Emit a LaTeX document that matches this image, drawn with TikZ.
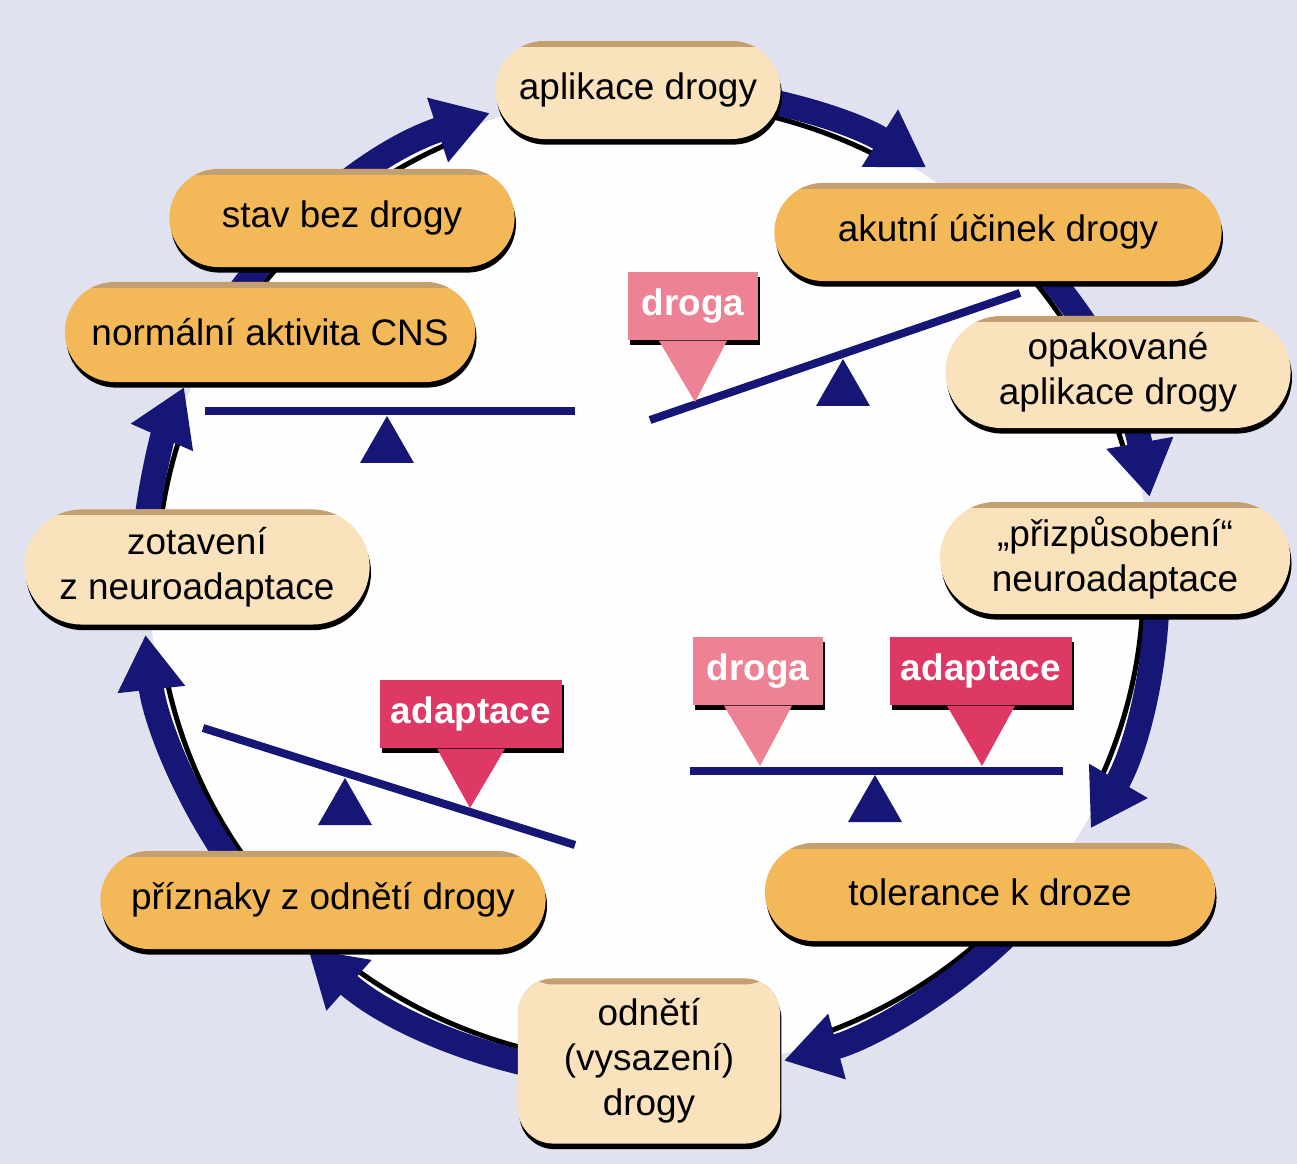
\documentclass[tikz,border=0pt]{standalone}
\usepackage{fontspec}
\setmainfont{Liberation Sans}
\usetikzlibrary{shapes.misc,shadows,arrows.meta,calc}

\definecolor{bgcol}{RGB}{225,226,240}
\definecolor{ringcol}{RGB}{22,22,118}
\definecolor{boxlight}{RGB}{250,226,188}
\definecolor{boxorange}{RGB}{243,184,88}
\definecolor{boxtop}{RGB}{196,160,112}
\definecolor{pinklight}{RGB}{236,130,148}
\definecolor{pinkdark}{RGB}{222,56,100}

\begin{document}
\begin{tikzpicture}[x=0.01cm,y=0.01cm,
	font=\fontsize{10.5}{12.8}\selectfont,
	pill/.style={rounded rectangle,fill=boxlight,inner sep=0pt,align=center,minimum height=0.98cm,
		drop shadow={shadow xshift=0.4pt,shadow yshift=-1.6pt,fill=black,opacity=1},
		path picture={\fill[boxtop] (path picture bounding box.north west) rectangle ([yshift=-0.06cm]path picture bounding box.north east);}},
	pillor/.style={pill,fill=boxorange},
	callout/.style={rectangle,fill=#1,text=white,font=\fontsize{10.5}{12.8}\selectfont\bfseries,
		minimum width=1.3cm,minimum height=0.68cm,inner sep=0pt,
		drop shadow={shadow xshift=0.6pt,shadow yshift=-1.4pt,fill=black,opacity=1}},
	beam/.style={draw=ringcol,line width=0.08cm},
	ring/.style={ringcol,line width=0.25cm,-{Triangle[length=0.55cm,width=0.64cm]}}]
	\useasboundingbox (0,0) rectangle (1297,-1164);
	\fill[bgcol] (0,0) rectangle (1297,-1164);
	\coordinate (ctr) at (650,-583);
	\fill[white!97!bgcol] (ctr) ellipse[x radius=5.0cm,y radius=4.88cm];
	% ring arrows
	\foreach \sa/\ea in {150/108.4,85/57,50/10,2/-29.7,-45/-74.7,-95/-132.4,-145/-174,-185/-203.3}{
		\pgfmathsetmacro\eb{\ea+5}
		\draw[black,line width=0.05cm] ($(ctr)+(\sa:4.93cm and 4.81cm)$) arc[start angle=\sa,end angle=\eb,x radius=4.93cm,y radius=4.81cm];
		\draw[ring] ($(ctr)+(\sa:5.07cm and 4.95cm)$) arc[start angle=\sa,end angle=\ea,x radius=5.07cm,y radius=4.95cm];
	}
	% scales
	\coordinate (b1l) at (205,-411);
	\coordinate (b1r) at (575,-411);
	\coordinate (b2l) at (650,-420);
	\coordinate (b2r) at (1020,-293);
	\coordinate (b3l) at (690,-771);
	\coordinate (b3r) at (1063,-771);
	\coordinate (b4l) at (203,-728);
	\coordinate (b4r) at (575,-845);
	\draw[beam] (b1l) -- (b1r);
	\draw[beam] (b2l) -- (b2r);
	\draw[beam] (b3l) -- (b3r);
	\draw[beam] (b4l) -- (b4r);
	\foreach \x/\y in {387/-416,843/-359,875/-775,345/-778}
		\fill[ringcol] (\x,\y) -- ++(27,-47) -- ++(-54,0) -- cycle;
	% weights
	\node[callout=pinklight] (drogaA) at (693,-306) {droga};
	\node[callout=pinklight] (drogaB) at (758,-671) {droga};
	\node[callout=pinkdark,minimum width=1.82cm] (adaptB) at (981,-671) {adaptace};
	\node[callout=pinkdark,minimum width=1.82cm] (adaptC) at (471,-714) {adaptace};
	\coordinate (tipA) at (695,-402);
	\coordinate (tipB) at (760,-766);
	\coordinate (tipC) at (982,-766);
	\coordinate (tipD) at (470,-808);
	\fill[pinklight] ([xshift=-0.34cm]drogaA.south) -- ([xshift=0.34cm]drogaA.south) -- (tipA) -- cycle;
	\fill[pinklight] ([xshift=-0.34cm]drogaB.south) -- ([xshift=0.34cm]drogaB.south) -- (tipB) -- cycle;
	\fill[pinkdark] ([xshift=-0.34cm]adaptB.south) -- ([xshift=0.34cm]adaptB.south) -- (tipC) -- cycle;
	\fill[pinkdark] ([xshift=-0.34cm]adaptC.south) -- ([xshift=0.34cm]adaptC.south) -- (tipD) -- cycle;
	% stages
	\node[pill,minimum width=2.85cm] (aplik) at (638,-90) {aplikace drogy};
	\node[pillor,minimum width=4.47cm] (akut) at (998,-232) {akutní účinek drogy};
	\node[pill,minimum width=3.45cm,minimum height=1.12cm] (opak) at (1118,-372) {opakované\\aplikace drogy};
	\node[pill,minimum width=3.5cm,minimum height=1.12cm] (prizp) at (1115,-558) {„přizpůsobení“\\neuroadaptace};
	\node[pillor,minimum width=4.5cm] (toler) at (990,-892) {tolerance k droze};
	\node[pill,rectangle,rounded corners=10pt,minimum width=2.62cm,minimum height=1.65cm] (odneti) at (649,-1061) {odnětí\\(vysazení)\\drogy};
	\node[pillor,minimum width=4.45cm] (prizn) at (323,-900) {příznaky z odnětí drogy};
	\node[pill,minimum width=3.45cm,minimum height=1.15cm] (zotav) at (197,-567) {zotavení\\z neuroadaptace};
	\node[pillor,minimum width=4.1cm,minimum height=1.0cm] (normal) at (270,-332) {normální aktivita CNS};
	\node[pillor,minimum width=3.45cm] (stav) at (342,-218) {stav bez drogy};
\end{tikzpicture}
\end{document}
